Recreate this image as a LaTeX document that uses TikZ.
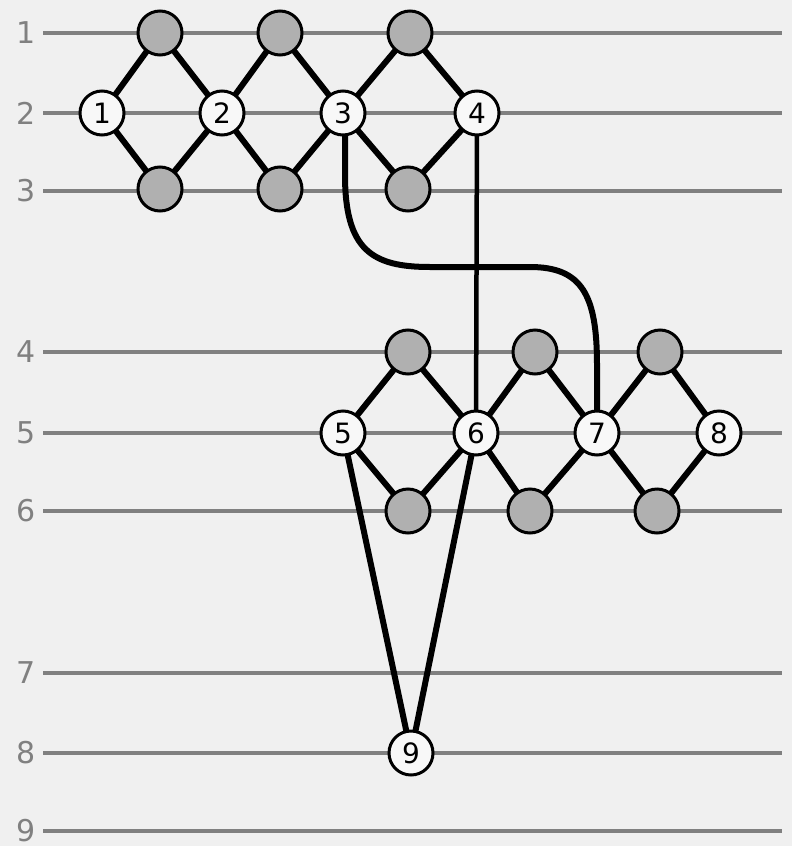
\documentclass[tikz,border=0pt]{standalone}
\usepackage{fontspec}
\setmainfont{DejaVu Sans}
\definecolor{bg}{HTML}{F0F0F0}
\definecolor{wire}{HTML}{808080}
\definecolor{dot}{HTML}{B0B0B0}
\definecolor{wnode}{HTML}{F8F8F8}
\begin{document}
\begin{tikzpicture}[x=1pt,y=-1pt,
  wireline/.style={draw=wire,line width=4pt},
  wlabel/.style={text=wire,anchor=east,inner sep=0pt,font=\fontsize{30}{30}\selectfont},
  vnode/.style={circle,draw=black,line width=3pt,fill=wnode,minimum size=44pt,inner sep=0pt,font=\fontsize{28}{28}\selectfont},
  gnode/.style={circle,draw=black,line width=3pt,fill=dot,minimum size=44pt,inner sep=0pt},
  edge/.style={draw=black,line width=6pt},
  thinedge/.style={draw=black,line width=4.5pt}]
\fill[bg] (0,0) rectangle (792,846);
\useasboundingbox (0,0) rectangle (792,846);
% wires
\foreach \i/\y in {1/33,2/113,3/191,4/352,5/433,6/511,7/673,8/753,9/831}{
  \node[wlabel] (l\i) at (36,\y) {\i};
  \draw[wireline] (43,\y) -- (782,\y);
}
\path
  (160,33) coordinate (pa) (280,33) coordinate (pb) (410,33) coordinate (pc)
  (160,189) coordinate (qa) (280,189) coordinate (qb) (408,189) coordinate (qc)
  (102,113) coordinate (p1) (222,113) coordinate (p2) (343,113) coordinate (p3) (477,113) coordinate (p4)
  (408,352) coordinate (ra) (535,352) coordinate (rb) (660,352) coordinate (rc)
  (343,433) coordinate (p5) (476,433) coordinate (p6) (597,433) coordinate (p7) (719,433) coordinate (p8)
  (408,511) coordinate (sa) (530,511) coordinate (sb) (657,511) coordinate (sc)
  (411,753) coordinate (p9);
\draw[edge] (p1) -- (pa) -- (p2) -- (pb) -- (p3) -- (pc) -- (p4);
\draw[edge] (p1) -- (qa) -- (p2) -- (qb) -- (p3) -- (qc) -- (p4);
\draw[edge] (p5) -- (ra) -- (p6) -- (rb) -- (p7) -- (rc) -- (p8);
\draw[edge] (p5) -- (sa) -- (p6) -- (sb) -- (p7) -- (sc) -- (p8);
\draw[edge] (p5) -- (p9) -- (p6);
\draw[thinedge] (p4) -- (p6);
\draw[edge] (345,113) -- (345,175) .. controls (345,250) and (372,267) .. (430,267) -- (530,267) .. controls (582,267) and (597,295) .. (597,365) -- (p7);
% nodes
\foreach \c in {pa,pb,pc,qa,qb,qc,ra,rb,rc,sa,sb,sc}{\node[gnode] (n\c) at (\c) {};}
\foreach \i in {1,...,9}{\node[vnode] (n\i) at (p\i) {\i};}
\end{tikzpicture}
\end{document}
